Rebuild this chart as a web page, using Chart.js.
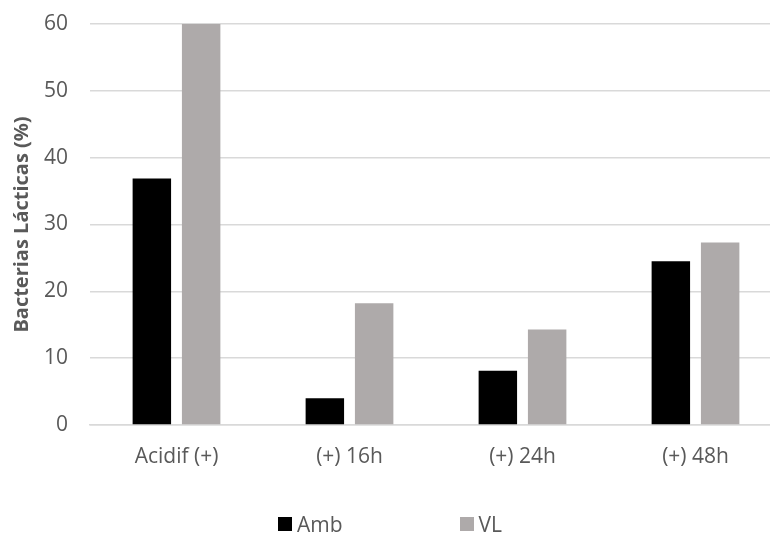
<!DOCTYPE html>
<html lang="es">
<head>
<meta charset="utf-8">
<title>Bacterias Lácticas (%)</title>
<script src="https://cdn.jsdelivr.net/npm/chart.js@4"></script>
<style>
  html, body { margin: 0; padding: 0; background: #ffffff; overflow: hidden; }
  #wrap { position: relative; width: 782px; height: 536px; }
  #legend {
    position: absolute; left: 0; top: 512px; width: 780px; height: 24px;
    display: flex; justify-content: center; align-items: center; gap: 117px;
    font-family: "Open Sans", sans-serif; font-size: 21px; color: #595959;
  }
  .item { display: flex; align-items: center; }
  .box { width: 14px; height: 14px; margin-right: 5px; }
</style>
</head>
<body>
<div id="wrap">
  <canvas id="chart" width="782" height="536"></canvas>
  <div id="legend"></div>
</div>
<script>
// Categories and series
const categories = ["Acidif (+)", "(+) 16h", "(+) 24h", "(+) 48h"];
const seriesNames = ["Amb", "VL"];
const ambValues = [36.9, 4.0, 8.1, 24.5];
const vlValues = [60.0, 18.2, 14.3, 27.3];
const seriesColors = ["#000000", "#aeaaaa"];
const yTitle = "Bacterias Lácticas (%)";

const textColor = "#595959";
const gridColor = "#d9d9d9";
const fontFamily = "'Open Sans', sans-serif";

const chart = new Chart(document.getElementById("chart"), {
  type: "bar",
  data: {
    labels: categories,
    datasets: [
      { label: seriesNames[0], data: ambValues, backgroundColor: seriesColors[0] },
      { label: seriesNames[1], data: vlValues, backgroundColor: seriesColors[1] }
    ]
  },
  options: {
    responsive: false,
    animation: false,
    devicePixelRatio: 1,
    categoryPercentage: 0.57,
    barPercentage: 0.78,
    layout: { padding: { top: 24, right: 0, bottom: 0, left: 0 } },
    plugins: {
      legend: { display: false },
      tooltip: { enabled: false }
    },
    scales: {
      x: {
        grid: { display: false, drawTicks: false },
        border: { display: true, color: gridColor, width: 1.5 },
        ticks: {
          color: textColor, padding: 19,
          font: { family: fontFamily, size: 21 }
        },
        afterFit: (s) => { s.height = 111; }
      },
      y: {
        min: 0, max: 60,
        grid: { color: gridColor, lineWidth: 1.5, drawTicks: false },
        border: { display: false },
        ticks: {
          stepSize: 10, color: textColor, padding: 22,
          font: { family: fontFamily, size: 21 }
        },
        title: {
          display: true, text: yTitle, color: textColor, padding: { top: 10, bottom: 0 },
          font: { family: fontFamily, size: 20, weight: "bold" }
        },
        afterFit: (s) => {
          s.width = 90;
          // the plot top is set by the layout padding alone
          s.paddingTop = 0;
          s.paddingBottom = 0;
        }
      }
    }
  }
});

// Legend built from the datasets
const legend = document.getElementById("legend");
chart.data.datasets.forEach((ds) => {
  const item = document.createElement("div");
  item.className = "item";
  const box = document.createElement("span");
  box.className = "box";
  box.style.background = ds.backgroundColor;
  const label = document.createElement("span");
  label.textContent = ds.label;
  item.appendChild(box);
  item.appendChild(label);
  legend.appendChild(item);
});
</script>
</body>
</html>
